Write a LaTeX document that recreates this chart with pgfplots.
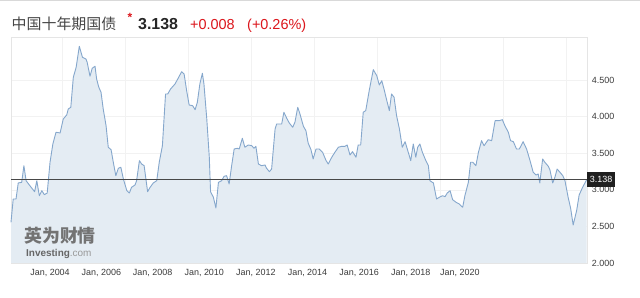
\documentclass[border=0pt]{standalone}
\usepackage{pgfplots}
\pgfplotsset{compat=1.18}
\usepackage{pgfplotstable}
\usepackage{fontspec}
\setmainfont{Liberation Sans}
\newfontfamily\cjk{Noto Sans CJK SC}
\definecolor{linec}{RGB}{133,167,204}
\definecolor{fillc}{RGB}{228,236,243}
\definecolor{tickc}{RGB}{60,60,60}
\definecolor{redc}{RGB}{220,22,28}
\definecolor{titlec}{RGB}{70,70,70}
\pgfplotstableread{
x y
2002.37 2.556
2002.44 2.874
2002.53 2.874
2002.60 3.093
2002.71 3.102
2002.78 3.329
2002.85 3.124
2002.97 3.056
2003.12 2.974
2003.19 3.124
2003.27 2.919
2003.35 2.988
2003.43 2.933
2003.52 2.956
2003.61 3.376
2003.70 3.626
2003.80 3.786
2003.93 3.776
2004.03 3.967
2004.14 4.022
2004.19 4.104
2004.27 4.127
2004.35 4.537
2004.44 4.673
2004.54 4.960
2004.64 4.810
2004.75 4.787
2004.79 4.742
2004.88 4.551
2004.95 4.660
2005.04 4.687
2005.09 4.514
2005.16 4.400
2005.23 4.332
2005.30 4.104
2005.39 3.876
2005.46 3.581
2005.55 3.548
2005.62 3.376
2005.70 3.193
2005.78 3.294
2005.86 3.307
2005.94 3.148
2006.05 2.988
2006.13 2.956
2006.20 3.034
2006.31 3.066
2006.36 3.124
2006.45 3.398
2006.52 3.352
2006.60 3.329
2006.71 2.974
2006.79 3.034
2006.89 3.093
2007.00 3.124
2007.08 3.376
2007.18 3.602
2007.28 4.309
2007.35 4.309
2007.44 4.377
2007.58 4.445
2007.68 4.523
2007.79 4.613
2007.87 4.582
2007.95 4.354
2008.03 4.158
2008.14 4.149
2008.22 4.094
2008.29 4.195
2008.37 4.445
2008.45 4.592
2008.50 4.445
2008.59 3.967
2008.67 3.444
2008.71 2.974
2008.80 2.898
2008.88 2.751
2008.96 3.102
2009.06 3.124
2009.14 3.184
2009.22 3.193
2009.30 3.079
2009.38 3.329
2009.46 3.557
2009.56 3.567
2009.62 3.557
2009.72 3.704
2009.80 3.581
2009.91 3.612
2010.02 3.602
2010.09 3.567
2010.15 3.594
2010.23 3.352
2010.33 3.329
2010.44 3.339
2010.49 3.294
2010.58 3.247
2010.65 3.284
2010.76 3.831
2010.81 3.899
2010.97 3.899
2011.04 4.059
2011.13 3.977
2011.21 3.913
2011.32 3.854
2011.39 3.922
2011.48 4.127
2011.55 4.036
2011.66 3.867
2011.74 3.807
2011.81 3.639
2011.90 3.548
2011.97 3.421
2012.06 3.557
2012.16 3.557
2012.27 3.512
2012.38 3.398
2012.45 3.352
2012.56 3.444
2012.66 3.512
2012.77 3.581
2012.88 3.594
2012.98 3.594
2013.05 3.612
2013.14 3.475
2013.22 3.521
2013.33 3.444
2013.40 3.612
2013.48 3.612
2013.56 4.059
2013.64 4.081
2013.75 4.354
2013.88 4.641
2013.99 4.559
2014.07 4.432
2014.15 4.490
2014.22 4.377
2014.31 4.217
2014.39 4.081
2014.46 4.309
2014.54 4.264
2014.62 4.012
2014.71 3.831
2014.80 3.581
2014.89 3.657
2014.96 3.557
2015.07 3.398
2015.15 3.626
2015.23 3.444
2015.29 3.581
2015.36 3.626
2015.44 3.512
2015.55 3.398
2015.63 3.329
2015.68 3.124
2015.79 3.093
2015.89 2.874
2015.98 2.898
2016.08 2.919
2016.16 2.906
2016.23 2.956
2016.32 2.988
2016.40 2.865
2016.51 2.829
2016.61 2.806
2016.72 2.761
2016.79 2.919
2016.90 3.102
2016.97 3.376
2017.04 3.376
2017.14 3.329
2017.22 3.512
2017.32 3.671
2017.40 3.602
2017.53 3.684
2017.64 3.671
2017.75 3.944
2017.88 3.944
2017.98 3.958
2018.06 3.876
2018.17 3.786
2018.24 3.671
2018.33 3.657
2018.43 3.557
2018.52 3.557
2018.64 3.657
2018.75 3.557
2018.86 3.398
2018.96 3.239
2019.05 3.202
2019.12 3.216
2019.17 3.093
2019.26 3.421
2019.33 3.376
2019.44 3.321
2019.49 3.275
2019.58 3.093
2019.65 3.171
2019.72 3.284
2019.81 3.239
2019.90 3.193
2019.97 3.124
2020.07 2.898
2020.15 2.747
2020.23 2.519
2020.34 2.715
2020.42 2.929
2020.53 3.034
2020.66 3.138
}\yields
\begin{document}
\begin{tikzpicture}
\useasboundingbox (0,0) rectangle (640bp,298bp);
\fill[white] (0,0) rectangle (640bp,298bp);
\draw[black!15, line width=0.8bp] (0,297.4bp) -- (640bp,297.4bp);
\begin{axis}[
  scale only axis, width=575.7bp, height=226bp,
  at={(11bp,35bp)}, anchor=south west,
  xmin=2002.37, xmax=2020.66, ymin=2, ymax=5.087,
  clip=false,
  axis line style={draw=black!10},
  xtick={2003.61,2005.24,2006.87,2008.51,2010.15,2011.79,2013.43,2015.07,2016.63},
  xticklabels={{Jan, 2004},{Jan, 2006},{Jan, 2008},{Jan, 2010},{Jan, 2012},{Jan, 2014},{Jan, 2016},{Jan, 2018},{Jan, 2020}},
  minor xtick={2004,2006,2008,2010,2012,2014,2016,2018,2020},
  xminorgrids, minor grid style={draw=black!5},
  ytick={2,2.5,3,3.5,4,4.5},
  yticklabels={2.000,2.500,3.000,3.500,4.000,4.500},
  ymajorgrids, major grid style={draw=black!5},
  yticklabel pos=right,
  major tick length=0pt, minor tick length=0pt,
  tick style={draw=none},
  /pgf/number format/assume math mode=true,
  ticklabel style={font=\fontsize{9}{10}\selectfont, text=tickc},
  xticklabel style={anchor=base, yshift=-12.5bp},
  yticklabel style={anchor=west, inner xsep=0pt, xshift=5bp},
]
\addplot[draw=none, fill=fillc] table[x=x,y=y]{\yields} \closedcycle;
\addplot[linec, line width=0.9bp, line join=round] table[x=x,y=y]{\yields};
\addplot[black!72, line width=1.4bp] coordinates {(2002.37,3.138) (2020.66,3.138)};
\node[anchor=west, fill=black!88, text=white, font=\fontsize{9}{10}\selectfont, inner xsep=3bp, minimum height=15bp, inner ysep=0pt] at (axis cs:2020.66,3.138) {3.138};
\end{axis}
% title
\node[anchor=base west, inner sep=0, text=titlec, font=\cjk\fontsize{15}{16}\selectfont] at (11.5bp,268bp) {中国十年期国债};
\node[anchor=center, inner sep=0, text=redc, font=\bfseries\fontsize{12}{12}\selectfont] at (130bp,281bp) {*};
\node[anchor=base west, inner sep=0, text=black!85, font=\bfseries\fontsize{16}{17}\selectfont] at (138bp,268bp) {3.138};
\node[anchor=base west, inner sep=0, text=redc, font=\fontsize{14.5}{16}\selectfont] at (190bp,268bp) {+0.008};
\node[anchor=base west, inner sep=0, text=redc, font=\fontsize{14.5}{16}\selectfont] at (247bp,268bp) {(+0.26\%)};
% watermark
\node[anchor=base west, inner sep=0, text=black!55, font=\cjk\bfseries\fontsize{18}{18}\selectfont] at (24bp,55bp) {英为财情};
\node[anchor=base west, inner sep=0, text=black!60, font=\bfseries\fontsize{10}{10}\selectfont] at (26bp,41bp) {Investing\textmd{\color{black!40}.com}};
\end{tikzpicture}
\end{document}
